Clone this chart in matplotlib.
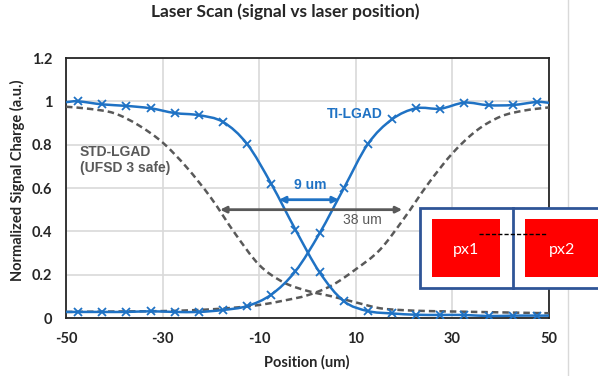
import numpy as np
import matplotlib
matplotlib.use("Agg")
import matplotlib.pyplot as plt
from matplotlib.path import Path
from matplotlib.patches import PathPatch, Rectangle
from matplotlib.lines import Line2D

plt.rcParams['font.family'] = ['Lato', 'DejaVu Sans']
plt.rcParams['axes.unicode_minus'] = False

# TI-LGAD scan (markers every 5 um, line runs to the plot edges)
ti_pos = [-50, -47.5, -42.5, -37.5, -32.5, -27.5, -22.5, -17.5, -12.5, -7.5, -2.5,
          2.5, 7.5, 12.5, 17.5, 22.5, 27.5, 32.5, 37.5, 42.5, 47.5, 50]
ti_px1 = [0.996, 1.0, 0.986, 0.979, 0.968, 0.946, 0.936, 0.905, 0.803, 0.619, 0.408,
          0.211, 0.078, 0.032, 0.021, 0.015, 0.014, 0.014, 0.009, 0.011, 0.011, 0.011]
ti_px2 = [0.028, 0.028, 0.028, 0.028, 0.031, 0.028, 0.028, 0.037, 0.055, 0.108, 0.216,
          0.391, 0.598, 0.803, 0.917, 0.968, 0.966, 0.994, 0.982, 0.983, 0.997, 0.993]

# STD-LGAD (UFSD 3 safe)
std_pos = [-50, -45, -40, -35, -30, -25, -20, -15, -10, -5, 0,
           5, 10, 15, 20, 25, 30, 35, 40, 45, 50]
std_px1 = [0.975, 0.965, 0.945, 0.89, 0.81, 0.695, 0.555, 0.39, 0.245, 0.165, 0.125,
           0.10, 0.072, 0.045, 0.036, 0.032, 0.03, 0.028, 0.026, 0.024, 0.022]
std_px2 = [0.028, 0.029, 0.03, 0.031, 0.032, 0.035, 0.04, 0.048, 0.06, 0.08, 0.105,
           0.15, 0.225, 0.315, 0.46, 0.62, 0.76, 0.865, 0.93, 0.958, 0.972]

xticks = [-50, -30, -10, 10, 30, 50]
yticks = [0, 0.2, 0.4, 0.6, 0.8, 1.0, 1.2]
ylabels = ['0', '0.2', '0.4', '0.6', '0.8', '1', '1.2']

BLUE = '#1f72c4'
GRAY = '#595959'
DARK = '#262626'
ARIAL = ['Liberation Sans', 'DejaVu Sans']
W, H = 598, 376


def smooth(x, y):
    # Excel-style smoothed line: Catmull-Rom through the points as Bezier segments
    p = np.column_stack([x, y]).astype(float)
    verts = [p[0]]
    codes = [Path.MOVETO]
    for i in range(len(p) - 1):
        p0 = p[i - 1] if i > 0 else p[i]
        p3 = p[i + 2] if i + 2 < len(p) else p[i + 1]
        verts += [p[i] + (p[i + 1] - p0) / 6, p[i + 1] - (p3 - p[i]) / 6, p[i + 1]]
        codes += [Path.CURVE4] * 3
    return Path(verts, codes)


def fx(px):
    return px / W


def fy(py):
    return 1 - py / H


fig = plt.figure(figsize=(W / 100, H / 100), dpi=100)
ax = fig.add_axes([fx(66), fy(318), fx(549) - fx(66), fy(58) - fy(318)])

ax.set_xlim(-50, 50)
ax.set_ylim(0, 1.2)
ax.set_xticks(xticks)
ax.set_yticks(yticks)
ax.set_yticklabels(ylabels)
ax.grid(True, color='#d9d9d9', lw=1.2)
ax.set_axisbelow(True)
ax.tick_params(length=0, labelsize=10.5, colors=DARK)
ax.tick_params(axis='y', pad=10)
ax.tick_params(axis='x', pad=10)
for lab in ax.get_xticklabels() + ax.get_yticklabels():
    lab.set_fontweight('bold')
for s in ax.spines.values():
    s.set_color(DARK)
    s.set_linewidth(1.3)

# STD-LGAD dashed curves
for ys in (std_px1, std_px2):
    ax.add_patch(PathPatch(smooth(std_pos, ys), fill=False, edgecolor=GRAY,
                           lw=1.8, linestyle=(0, (2.6, 1.6)), zorder=3))

# TI-LGAD smoothed curves with markers
for ys in (ti_px1, ti_px2):
    ax.add_patch(PathPatch(smooth(ti_pos, ys), fill=False, edgecolor=BLUE,
                           lw=1.8, zorder=4))
    ax.plot(ti_pos[1:-1], ys[1:-1], ls='none', marker='x', ms=6, mew=1.3,
            color=BLUE, zorder=5)

# width arrows
ax.annotate('', xy=(-5.9, 0.546), xytext=(6.5, 0.546),
            arrowprops=dict(arrowstyle='<|-|>', color=BLUE, lw=2,
                            mutation_scale=9, shrinkA=0, shrinkB=0), zorder=6)
ax.text(0.5, 0.615, '9 um', color=BLUE, fontsize=10, fontweight='bold',
        family=ARIAL, ha='center', va='center')
ax.annotate('', xy=(-18.1, 0.5), xytext=(19.6, 0.5),
            arrowprops=dict(arrowstyle='<|-|>', color=GRAY, lw=2,
                            mutation_scale=9, shrinkA=0, shrinkB=0), zorder=6)
ax.text(11.3, 0.45, '38 um', color=GRAY, fontsize=10, family=ARIAL,
        ha='center', va='center')

ax.text(9.8, 0.94, 'TI-LGAD', color=BLUE, fontsize=10, fontweight='bold',
        family=ARIAL, ha='center', va='center')
ax.text(-47.2, 0.73, 'STD-LGAD\n(UFSD 3 safe)', color=GRAY, fontsize=10,
        fontweight='bold', family=ARIAL, ha='left', va='center', linespacing=1.2)

fig.text(fx(285), fy(12), 'Laser Scan (signal vs laser position)', fontsize=12.5,
         fontweight='bold', ha='center', va='center', color=DARK)
fig.text(fx(307), fy(362), 'Position (um)', fontsize=10.5, fontweight='bold',
         ha='center', va='center', color=DARK)
fig.text(fx(17), fy(180), 'Normalized Signal Charge (a.u.)', fontsize=10.5,
         fontweight='bold', ha='center', va='center', rotation=90, color=DARK)

# slide frame line
fig.add_artist(Line2D([fx(568), fx(568)], [0, 1], color='#d9d9d9', lw=1))

# pixel sketch inset
fig.add_artist(Rectangle((fx(420), fy(288)), fx(640) - fx(420), fy(208) - fy(288),
                         facecolor='white', edgecolor='#2f5597', lw=2, zorder=10))
fig.add_artist(Line2D([fx(513), fx(513)], [fy(288), fy(208)], color='#2f5597',
                      lw=2, zorder=11))
fig.add_artist(Rectangle((fx(432), fy(277)), fx(500) - fx(432), fy(219) - fy(277),
                         facecolor='#ff0000', edgecolor='none', zorder=11))
fig.add_artist(Rectangle((fx(525), fy(277)), fx(610) - fx(525), fy(219) - fy(277),
                         facecolor='#ff0000', edgecolor='none', zorder=11))
fig.text(fx(466), fy(250), 'px1', color='white', fontsize=11.5, ha='center',
         va='center', zorder=12)
fig.text(fx(562), fy(250), 'px2', color='white', fontsize=11.5, ha='center',
         va='center', zorder=12)
fig.add_artist(Line2D([fx(479), fx(547)], [fy(234), fy(234)], color='black',
                      lw=1, ls=(0, (3, 1.5)), zorder=12))

fig.savefig('out.png', dpi=100)
